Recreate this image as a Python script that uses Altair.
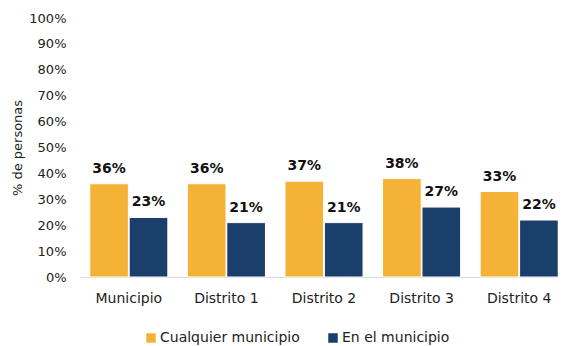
import altair as alt
import pandas as pd

categories = ["Municipio", "Distrito 1", "Distrito 2", "Distrito 3", "Distrito 4"]
series = ["Cualquier municipio", "En el municipio"]
cualquier = [36, 36, 37, 38, 33]
en_el = [23, 21, 21, 27, 22]
colors = ["#F4B336", "#1B3F6B"]

rows = []
for c, a, b in zip(categories, cualquier, en_el):
    rows.append({"cat": c, "serie": series[0], "val": a / 100})
    rows.append({"cat": c, "serie": series[1], "val": b / 100})
df = pd.DataFrame(rows)

FONT = "DejaVu Sans"

x = alt.X("cat:N", sort=categories, title=None,
          scale=alt.Scale(paddingInner=0.2, paddingOuter=0.1, range=[2, 490]),
          axis=alt.Axis(labelAngle=0, ticks=False, domainColor="#d9d9d9",
                        labelFontSize=14, labelColor="#222", labelPadding=14,
                        labelFont=FONT))
xo = alt.XOffset("serie:N", sort=series, scale=alt.Scale(paddingInner=0.02))
y = alt.Y("val:Q", title="% de personas",
          scale=alt.Scale(domain=[0, 1]),
          axis=alt.Axis(format=".0%", values=[i / 10 for i in range(11)],
                        grid=False, domain=False, ticks=False,
                        labelFontSize=13, labelColor="#222", labelPadding=12,
                        titleFontSize=13, titleFontWeight="normal", titleColor="#222",
                        titlePadding=4, labelFont=FONT, titleFont=FONT))

color = alt.Color("serie:N", sort=series, title=None,
                  scale=alt.Scale(domain=series, range=colors),
                  legend=alt.Legend(orient="none", legendX=66, legendY=313,
                                    direction="horizontal", symbolType="square",
                                    symbolSize=90, symbolStrokeWidth=0,
                                    labelFontSize=14, labelColor="#222",
                                    labelFont=FONT, columnPadding=26,
                                    labelOffset=2))

base = alt.Chart(df).encode(x=x, xOffset=xo, y=y)

bars = base.mark_bar(stroke="white", strokeWidth=1).encode(color=color)
labels = base.mark_text(dy=-15, fontSize=14, fontWeight="bold", color="#111",
                        font=FONT).encode(text=alt.Text("val:Q", format=".0%"))

chart = (bars + labels).properties(
    width=480, height=259,
    autosize=alt.AutoSizeParams(type="none"),
    padding={"left": 70, "top": 10, "right": 0, "bottom": 68},
).configure_view(stroke=None)

chart.save("out.html", embed_options={"renderer": "svg", "actions": False})
